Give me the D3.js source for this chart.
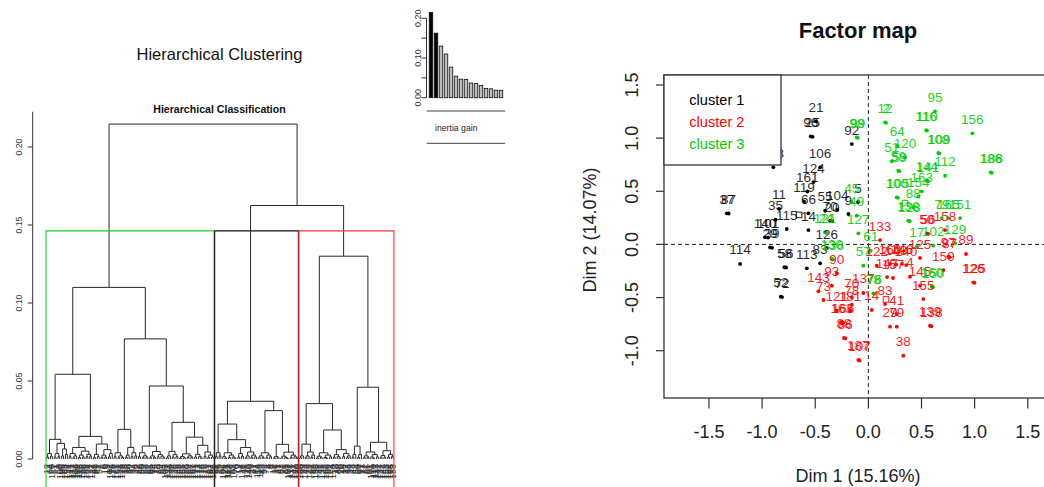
<!DOCTYPE html>
<html><head><meta charset="utf-8">
<script src="https://cdn.jsdelivr.net/npm/d3@7"></script>
<style>
html,body{margin:0;padding:0;background:#fff;}
svg{display:block;font-family:"Liberation Sans",Arial,Helvetica,sans-serif;}
</style></head><body>
<svg id="chart" width="1044" height="487"></svg>
<script>
// ================= DATA =================
// inertia gain of the successive merges (largest first)
const inertiaGain = [0.2147, 0.1625, 0.130, 0.110, 0.077, 0.0543, 0.0468, 0.046, 0.037, 0.0355, 0.031, 0.0235, 0.0224, 0.019, 0.0186];
const inertiaTicks = [0, 0.05, 0.10, 0.15, 0.20];
const inertiaTickLabels = [0, 0.10, 0.20];
const dendroTicks = [0, 0.05, 0.10, 0.15, 0.20];

// dendrogram: node = [height, left, right]; L = leaf
const L = 0;
const greenA1 = [0.0126,
  [0.0035, [0.0012, L, L], [0.0018, L, L]],
  [0.0100, [0.0035, [0.0012, L, L], [0.0015, L, L]], [0.0065, [0.002, L, L], [0.003, L, L]]]];
const greenA2 = [0.0145,
  [0.0074, [0.0035, [0.0015, L, L], [0.002, [0.0008, L, L], L]], [0.005, [0.0025, [0.001, L, L], [0.0012, L, L]], [0.003, [0.0015, L, L], [0.0018, L, L]]]],
  [0.0096, [0.003, [0.001, L, L], [0.0015, L, L]], [0.006, [0.0025, [0.001, L, L], [0.0012, L, L]], [0.0035, [0.0014, L, L], L]]]];
const greenB1 = [0.019,
  [0.004, [0.0015, L, L], [0.002, [0.0008, L, L], [0.001, L, L]]],
  [0.0074, [0.0025, [0.001, L, L], L], [0.004, [0.0015, L, L], [0.002, L, L]]]];
const greenB2a = [0.0083,
  [0.004, [0.0015, L, L], [0.002, [0.0009, L, L], [0.0012, L, L]]],
  [0.0048, [0.002, [0.0008, L, L], [0.0012, L, L]], [0.0028, [0.0014, L, L], [0.0018, L, [0.0007, L, L]]]]];
const greenB2b = [0.0235,
  [0.0049, [0.002, [0.0008, L, L], L], [0.0028, [0.0012, L, L], [0.0015, L, L]]],
  [0.014,
    [0.0033, [0.0015, [0.0006, L, L], [0.0008, L, L]], [0.002, [0.001, L, L], [0.0012, L, L]]],
    [0.0088, [0.003, [0.0012, L, L], [0.0015, L, [0.0006, L, L]]], [0.0045, [0.0018, L, L], [0.0025, [0.001, L, L], [0.0012, L, L]]]]]];
const blackK1 = [0.0224,
  [0.004, [0.0015, L, L], [0.002, L, L]],
  [0.0124,
    [0.004, [0.0015, L, [0.0006, L, L]], [0.0025, [0.001, L, L], [0.0012, L, [0.0005, L, L]]]],
    [0.0074, [0.0035, [0.0012, L, L], [0.0018, L, L]], [0.0045, [0.002, [0.0008, L, L], L], [0.0025, [0.001, L, L], [0.0014, L, L]]]]]];
const blackK2 = [0.031,
  [0.004, [0.002, [0.0008, L, L], [0.001, L, L]], [0.0025, [0.001, L, L], [0.0015, L, L]]],
  [0.0094,
    [0.0015, [0.0006, L, L], [0.0008, L, L]],
    [0.0044, [0.0018, [0.0007, L, L], [0.0009, L, [0.0004, L, L]]], [0.0025, [0.001, L, L], [0.0014, L, [0.0005, L, L]]]]]];
const redR1 = [0.0355,
  [0.0095, [0.002, [0.0008, L, L], L], [0.0045, [0.002, [0.0008, L, L], L], [0.0025, [0.001, L, L], L]]],
  [0.0186,
    [0.004, [0.0018, [0.0007, L, L], [0.001, L, L]], [0.0025, [0.001, L, [0.0004, L, L]], [0.0014, L, L]]],
    [0.006, [0.0028, [0.0012, L, L], [0.0015, L, [0.0006, L, L]]], [0.0035, [0.0015, L, L], [0.002, [0.0008, L, L], L]]]]];
const redR2 = [0.046,
  [0.0083, [0.003, [0.0012, L, L], L], [0.0028, [0.001, L, L], L]],
  [0.0107,
    [0.0045, [0.002, [0.0008, L, L], [0.001, L, L]], [0.0028, [0.0012, L, [0.0005, L, L]], [0.0014, L, L]]],
    [0.0053, [0.0022, [0.0009, L, L], [0.0011, L, L]], [0.003, [0.0012, L, L], [0.0015, L, L]]]]];
const greenTree = [0.110, [0.0543, greenA1, greenA2], [0.077, greenB1, [0.0468, greenB2a, greenB2b]]];
const blackTree = [0.037, blackK1, blackK2];
const redTree = [0.130, redR1, redR2];
const tree = [0.2147, greenTree, [0.1625, blackTree, redTree]];

// leaf labels, left to right
const greenLeaves = [12, 2, 64, 120, 51, 1, 59, 100, 105, 88, 163, 154, 144, 141, 112, 108, 109, 116, 95, 156, 186, 188, 24, 121, 127, 45, 98, 61, 57, 5, 6, 10, 15, 17, 102, 129, 79, 165, 151, 138, 128, 18, 23, 28, 30, 32, 34, 36, 42, 46, 48, 50, 53, 56, 62, 65, 69, 74, 75, 78, 80, 84, 94, 103, 111, 122, 130, 134, 136, 146, 148, 152, 155, 157, 158, 160, 164, 167, 169, 171, 172, 173, 174, 176, 178, 179, 181, 182, 184, 185];
const blackLeaves = [21, 96, 25, 92, 106, 124, 161, 119, 66, 55, 104, 70, 9, 14, 126, 11, 35, 115, 140, 29, 37, 87, 114, 58, 113, 83, 52, 72, 3, 8, 7, 19, 26, 31, 47, 63, 76, 81, 99, 107, 118, 131, 147, 170, 180];
const redLeaves = [133, 90, 93, 143, 73, 125, 97, 89, 159, 135, 38, 41, 139, 145, 166, 86, 187, 4, 150, 13, 40, 68, 20, 16, 22, 27, 33, 39, 43, 49, 54, 60, 67, 71, 77, 82, 85, 91, 101, 110, 117, 123, 132, 137, 142, 149, 153, 162, 168, 175, 183];

// factor map individuals: [label, Dim 1, Dim 2]
const cluster1 = [
 ["37",-1.332,0.293],["87",-1.315,0.291],["11",-0.840,0.334],["35",-0.873,0.232],["140",-0.972,0.067],["101",-0.944,0.065],
 ["115",-0.768,0.145],["29",-0.925,-0.027],["39",-0.906,-0.032],["114",-1.207,-0.184],["58",-0.790,-0.215],["56",-0.774,-0.217],
 ["113",-0.579,-0.225],["83",-0.454,-0.178],["52",-0.824,-0.492],["72",-0.812,-0.495],["126",-0.391,-0.034],["14",-0.564,0.135],
 ["21",-0.492,1.158],["96",-0.542,1.017],["25",-0.525,1.012],["92",-0.156,0.944],["106",-0.454,0.725],["124",-0.517,0.587],
 ["161",-0.574,0.499],["119",-0.605,0.402],["66",-0.564,0.293],["55",-0.407,0.317],["104",-0.292,0.324],["70",-0.360,0.223],
 ["20",-0.341,0.220],["9",-0.188,0.286],["5",-0.097,0.399],["118",-0.894,0.725]];
const cluster2 = [
 ["133",0.110,0.041],["90",-0.297,-0.272],["122",0.079,-0.200],["160",0.204,-0.184],["148",0.261,-0.189],["146",0.317,-0.184],
 ["140",0.355,-0.194],["4",0.392,-0.304],["125",0.486,-0.128],["97",0.753,-0.116],["87",0.764,-0.120],["89",0.919,-0.090],
 ["158",0.722,0.135],["50",0.549,0.104],["56",0.562,0.100],["159",0.706,-0.241],["126",0.988,-0.357],["125",0.999,-0.361],
 ["143",-0.470,-0.441],["93",-0.344,-0.389],["73",-0.423,-0.523],["70",-0.156,-0.498],["78",-0.156,-0.567],["137",-0.047,-0.457],
 ["181",-0.172,-0.624],["121",-0.297,-0.624],["163",-0.250,-0.733],["166",-0.238,-0.738],["88",-0.229,-0.880],["86",-0.217,-0.884],
 ["187",-0.094,-1.087],["107",-0.083,-1.092],["38",0.329,-1.047],["41",0.267,-0.655],["14",0.032,-0.617],["83",0.157,-0.561],
 ["147",0.176,-0.307],["157",0.232,-0.316],["29",0.204,-0.774],["79",0.267,-0.774],["139",0.580,-0.765],["138",0.593,-0.770],
 ["145",0.486,-0.389],["155",0.517,-0.514]];
const cluster3 = [
 ["12",0.157,1.149],["2",0.166,1.144],["95",0.627,1.252],["116",0.543,1.076],["110",0.552,1.071],["156",0.978,1.045],
 ["64",0.273,0.928],["51",0.220,0.782],["120",0.345,0.819],["108",0.658,0.860],["109",0.668,0.855],["186",1.151,0.678],
 ["188",1.161,0.674],["58",0.282,0.693],["59",0.292,0.689],["144",0.549,0.599],["141",0.562,0.595],["112",0.722,0.646],
 ["100",0.267,0.443],["105",0.279,0.438],["163",0.502,0.500],["154",0.470,0.449],["88",0.423,0.349],["138",0.376,0.223],
 ["128",0.388,0.218],["79",0.690,0.248],["165",0.753,0.248],["151",0.863,0.248],["17",0.455,-0.022],["102",0.611,-0.012],
 ["129",0.816,0.010],["127",-0.094,0.104],["61",0.023,-0.059],["45",-0.156,0.396],["49",-0.109,0.270],["98",-0.109,1.007],
 ["99",-0.100,1.003],["121",-0.407,0.114],["24",-0.398,0.109],["130",-0.344,-0.137],["136",-0.335,-0.142],["57",-0.047,-0.200],
 ["78",0.047,-0.460],["76",0.058,-0.465],["160",0.596,-0.398],["150",0.609,-0.403]];
const clusterCenters = [[-0.652, 0.277], [0.166, -0.518], [0.345, 0.389]];
const clusterNames = ["cluster 1", "cluster 2", "cluster 3"];
const clusterColors = ["#000000", "#ff0000", "#00cd00"];
const mapTicksX = [-1.5, -1.0, -0.5, 0.0, 0.5, 1.0, 1.5];
const mapTicksY = [-1.0, -0.5, 0.0, 0.5, 1.0, 1.5];

// ================= DRAW =================
const svg = d3.select("#chart");

// ---------- Left: dendrogram ----------
svg.append("text").attr("x", 219.5).attr("y", 60).attr("text-anchor", "middle")
  .style("font-size", "16.5px").attr("fill", "#111").text("Hierarchical Clustering");
svg.append("text").attr("x", 219.5).attr("y", 112.8).attr("text-anchor", "middle")
  .style("font-size", "10.6px").style("font-weight", "bold").attr("fill", "#111").text("Hierarchical Classification");

const dY = d3.scaleLinear().domain([0, 0.20]).range([459, 147]);
const root = d3.hierarchy(tree, d => Array.isArray(d) ? [d[1], d[2]] : null);
d3.cluster().separation(() => 1).size([1, 1])(root);
const leaves = root.leaves();
const dX = d3.scaleLinear().domain([leaves[0].x, leaves[leaves.length - 1].x]).range([46.7, 393.3]);
const hOf = n => Array.isArray(n.data) ? n.data[0] : 0;

// axis
const gAx = svg.append("g");
gAx.append("line").attr("x1", 32.7).attr("x2", 32.7).attr("y1", dY(0)).attr("y2", dY(0.2226)).attr("stroke", "#333");
dendroTicks.forEach(t => {
  gAx.append("line").attr("x1", 27.7).attr("x2", 32.7).attr("y1", dY(t)).attr("y2", dY(t)).attr("stroke", "#333");
  gAx.append("text").attr("transform", `translate(21.9,${dY(t)}) rotate(-90)`).attr("text-anchor", "middle")
    .style("font-size", "8.7px").attr("fill", "#333").text(t.toFixed(2));
});

// links
const gL = svg.append("g").attr("fill", "none").attr("stroke", "#2a2a2a").attr("stroke-width", 1);
root.descendants().filter(n => n.children).forEach(n => {
  const [a, b] = n.children;
  gL.append("path").attr("d",
    `M${dX(a.x)},${dY(hOf(a))}V${dY(hOf(n))}H${dX(b.x)}V${dY(hOf(b))}`);
});

// leaf labels
const leafLabels = greenLeaves.concat(blackLeaves, redLeaves);
const gT = svg.append("g");
leaves.forEach((lf, i) => {
  gT.append("text").attr("transform", `translate(${dX(lf.x) + 3},464) rotate(-90)`)
    .attr("text-anchor", "end").style("font-size", "9px").attr("fill", "#333")
    .text(leafLabels[i]);
});

// cluster rectangles
const step = dX(leaves[1].x) - dX(leaves[0].x);
const rectTop = dY((inertiaGain[1] + inertiaGain[2]) / 2);
const groups = [[0, greenLeaves.length, "#22cc22"],
                [greenLeaves.length, blackLeaves.length, "#111111"],
                [greenLeaves.length + blackLeaves.length, redLeaves.length, "#ff3333"]];
groups.forEach(([start, n, col]) => {
  const x0 = dX(leaves[start].x) - 0.34 * step;
  const x1 = dX(leaves[start + n - 1].x) + 0.33 * step;
  svg.append("path").attr("d", `M${x0},492V${rectTop}H${x1}V492`)
    .attr("fill", "none").attr("stroke", col).attr("stroke-width", 1.1);
});

// ---------- Middle: inertia gain barplot ----------
const iX = d3.scaleBand().domain(d3.range(inertiaGain.length)).range([428.5, 503.5]).paddingInner(0.3).paddingOuter(0.15);
const iY = d3.scaleLinear().domain([0, 0.20]).range([97.7, 18.3]);
svg.append("g").selectAll("rect").data(inertiaGain).join("rect")
  .attr("x", (d, i) => iX(i)).attr("width", iX.bandwidth())
  .attr("y", d => iY(d)).attr("height", d => iY(0) - iY(d))
  .attr("fill", (d, i) => i < 2 ? "#000" : "#bebebe").attr("stroke", "#111").attr("stroke-width", 0.8);
const gI = svg.append("g");
gI.append("line").attr("x1", 426.5).attr("x2", 426.5).attr("y1", iY(0)).attr("y2", iY(0.20)).attr("stroke", "#333");
inertiaTicks.forEach(t => gI.append("line").attr("x1", 421.5).attr("x2", 426.5).attr("y1", iY(t)).attr("y2", iY(t)).attr("stroke", "#333"));
inertiaTickLabels.forEach(t => gI.append("text").attr("transform", `translate(421,${iY(t)}) rotate(-90)`)
  .attr("text-anchor", "middle").style("font-size", "9px").attr("fill", "#333").text(t.toFixed(2)));
gI.append("line").attr("x1", 426.7).attr("x2", 505).attr("y1", 111).attr("y2", 111).attr("stroke", "#444");
gI.append("line").attr("x1", 426.7).attr("x2", 505).attr("y1", 143.3).attr("y2", 143.3).attr("stroke", "#444");
gI.append("text").attr("x", 435).attr("y", 130.6).style("font-size", "8.7px").attr("fill", "#222").text("inertia gain");

// ---------- Right: factor map ----------
const fX = d3.scaleLinear().domain([-1.923, 1.728]).range([664, 1052]);
const fY = d3.scaleLinear().domain([-1.445, 1.594]).range([398, 75]);

svg.append("text").attr("x", 858).attr("y", 38).attr("text-anchor", "middle")
  .style("font-size", "22px").style("font-weight", "bold").attr("fill", "#111").text("Factor map");

// dashed zero lines
svg.append("line").attr("x1", fX(0)).attr("x2", fX(0)).attr("y1", fY(1.594)).attr("y2", fY(-1.445))
  .attr("stroke", "#222").attr("stroke-dasharray", "4,3");
svg.append("line").attr("x1", fX(-1.923)).attr("x2", fX(1.728)).attr("y1", fY(0)).attr("y2", fY(0))
  .attr("stroke", "#222").attr("stroke-dasharray", "4,3");

// points
const clusters = [cluster1, cluster2, cluster3];
const gP = svg.append("g");
clusters.forEach((pts, ci) => {
  gP.selectAll(null).data(pts).join("circle")
    .attr("cx", d => fX(d[1])).attr("cy", d => fY(d[2])).attr("r", 1.9).attr("fill", clusterColors[ci]);
});
clusterCenters.forEach((c, ci) => {
  gP.append("rect").attr("x", fX(c[0]) - 2.8).attr("y", fY(c[1]) - 2.8).attr("width", 5.6).attr("height", 5.6)
    .attr("fill", "none").attr("stroke", clusterColors[ci]).attr("stroke-width", 0.9);
});
clusters.forEach((pts, ci) => {
  gP.selectAll(null).data(pts).join("text")
    .attr("x", d => fX(d[1])).attr("y", d => fY(d[2]) - 9.5).attr("text-anchor", "middle")
    .style("font-size", "13.5px").attr("fill", clusterColors[ci]).attr("fill-opacity", ci === 0 ? 0.85 : 0.9)
    .text(d => d[0]);
});

// frame
svg.append("rect").attr("x", fX(-1.923)).attr("y", fY(1.594)).attr("width", fX(1.728) - fX(-1.923))
  .attr("height", fY(-1.445) - fY(1.594)).attr("fill", "none").attr("stroke", "#333").attr("stroke-width", 1.3);

// legend
svg.append("rect").attr("x", 664).attr("y", 75).attr("width", 117).attr("height", 90)
  .attr("fill", "#fff").attr("stroke", "#333").attr("stroke-width", 1.3);
clusterNames.forEach((nm, i) => {
  svg.append("text").attr("x", 689.3).attr("y", 104.5 + i * 22).style("font-size", "14.6px")
    .attr("fill", clusterColors[i]).text(nm);
});

// axes
const gX = svg.append("g");
mapTicksX.forEach(t => {
  gX.append("line").attr("x1", fX(t)).attr("x2", fX(t)).attr("y1", 398).attr("y2", 408.5).attr("stroke", "#333").attr("stroke-width", 1.2);
  gX.append("text").attr("x", fX(t)).attr("y", 438).attr("text-anchor", "middle")
    .style("font-size", "18px").attr("fill", "#222").text(t.toFixed(1));
});
mapTicksY.forEach(t => {
  gX.append("line").attr("x1", 656).attr("x2", 664).attr("y1", fY(t)).attr("y2", fY(t)).attr("stroke", "#333").attr("stroke-width", 1.2);
  gX.append("text").attr("transform", `translate(637.8,${fY(t)}) rotate(-90)`).attr("text-anchor", "middle")
    .style("font-size", "18px").attr("fill", "#222").text(t.toFixed(1));
});
svg.append("text").attr("x", 858).attr("y", 482).attr("text-anchor", "middle")
  .style("font-size", "18px").attr("fill", "#222").text("Dim 1 (15.16%)");
svg.append("text").attr("transform", "translate(595.5,230) rotate(-90)").attr("text-anchor", "middle")
  .style("font-size", "18px").attr("fill", "#222").text("Dim 2 (14.07%)");
</script>
</body></html>
